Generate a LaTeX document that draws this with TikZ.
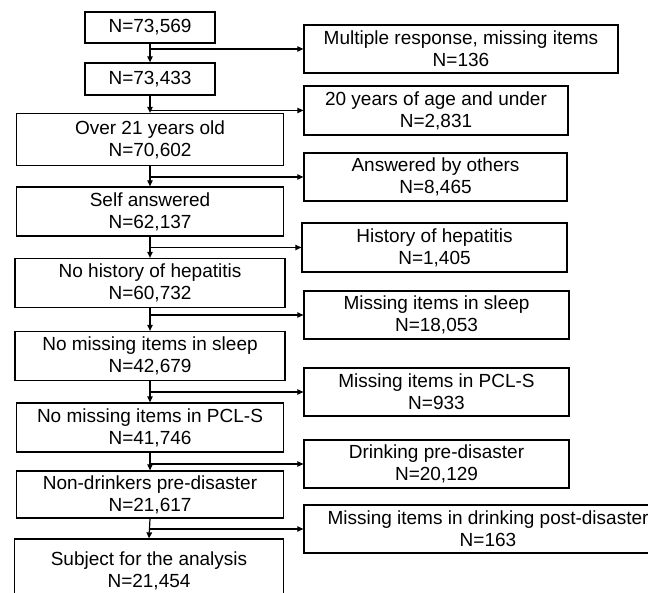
\documentclass[tikz,border=0pt]{standalone}
\usepackage{fontspec}
\setmainfont{Liberation Sans}
\usetikzlibrary{arrows.meta}

\begin{document}
\begin{tikzpicture}[x=1pt,y=-1pt, font=\fontsize{19}{22}\selectfont,
    box/.style={draw, line width=1.3pt, align=center, inner sep=0pt, minimum height=49pt},
    arr/.style={line width=1.2pt, -{Triangle[length=6pt,width=5.5pt]}}]
    \useasboundingbox (0,0) rectangle (648,593);

    % Main column (remaining subjects)
    \node[box, minimum width=130pt, minimum height=31pt] (n1) at (150,27.5) {N=73,569};
    \node[box, minimum width=130pt, minimum height=32pt] (n2) at (150,79) {N=73,433};
    \node[box, minimum width=267pt, minimum height=52pt] (n3) at (150,139.5) {Over 21 years old\\N=70,602};
    \node[box, minimum width=267pt] (n4) at (150,211.5) {Self answered\\N=62,137};
    \node[box, minimum width=270pt] (n5) at (150,283) {No history of hepatitis\\N=60,732};
    \node[box, minimum width=270pt] (n6) at (150,356) {No missing items in sleep\\N=42,679};
    \node[box, minimum width=267pt] (n7) at (150,427.5) {No missing items in PCL-S\\N=41,746};
    \node[box, minimum width=267pt, minimum height=47pt] (n8) at (150,494.5) {Non-drinkers pre-disaster\\N=21,617};
    \node[box, minimum width=269pt, minimum height=64pt] (n9) at (149,571) {Subject for the analysis\\N=21,454};

    % Excluded subjects
    \node[box, minimum width=314pt, minimum height=48pt] (x1) at (461,49) {Multiple response, missing items\\N=136};
    \node[box, minimum width=264pt] (x2) at (436,110.5) {20 years of age and under\\N=2,831};
    \node[box, minimum width=263pt, minimum height=48pt] (x3) at (435.5,177) {Answered by others\\N=8,465};
    \node[box, minimum width=265pt] (x4) at (434.5,247.5) {History of hepatitis\\N=1,405};
    \node[box, minimum width=265pt, minimum height=48pt] (x5) at (436.5,315) {Missing items in sleep\\N=18,053};
    \node[box, minimum width=265pt, minimum height=48pt] (x6) at (436.5,392) {Missing items in PCL-S\\N=933};
    \node[box, minimum width=265pt, minimum height=48pt] (x7) at (436.5,464) {Drinking pre-disaster\\N=20,129};
    \node[box, minimum width=368pt, minimum height=48pt] (x8) at (488,529) {Missing items in drinking post-disaster\\N=163};

    % Flow arrows
    \foreach \a/\b/\x in {n1/n2/x1,n2/n3/x2,n3/n4/x3,n4/n5/x4,n5/n6/x5,n6/n7/x6,n7/n8/x7,n8/n9/x8} {
      \draw[arr] (\a.south) -- (\b.north);
      \draw[arr] (\a.south |- \x.west) -- (\x.west);
    }
  \end{tikzpicture}
\end{document}
